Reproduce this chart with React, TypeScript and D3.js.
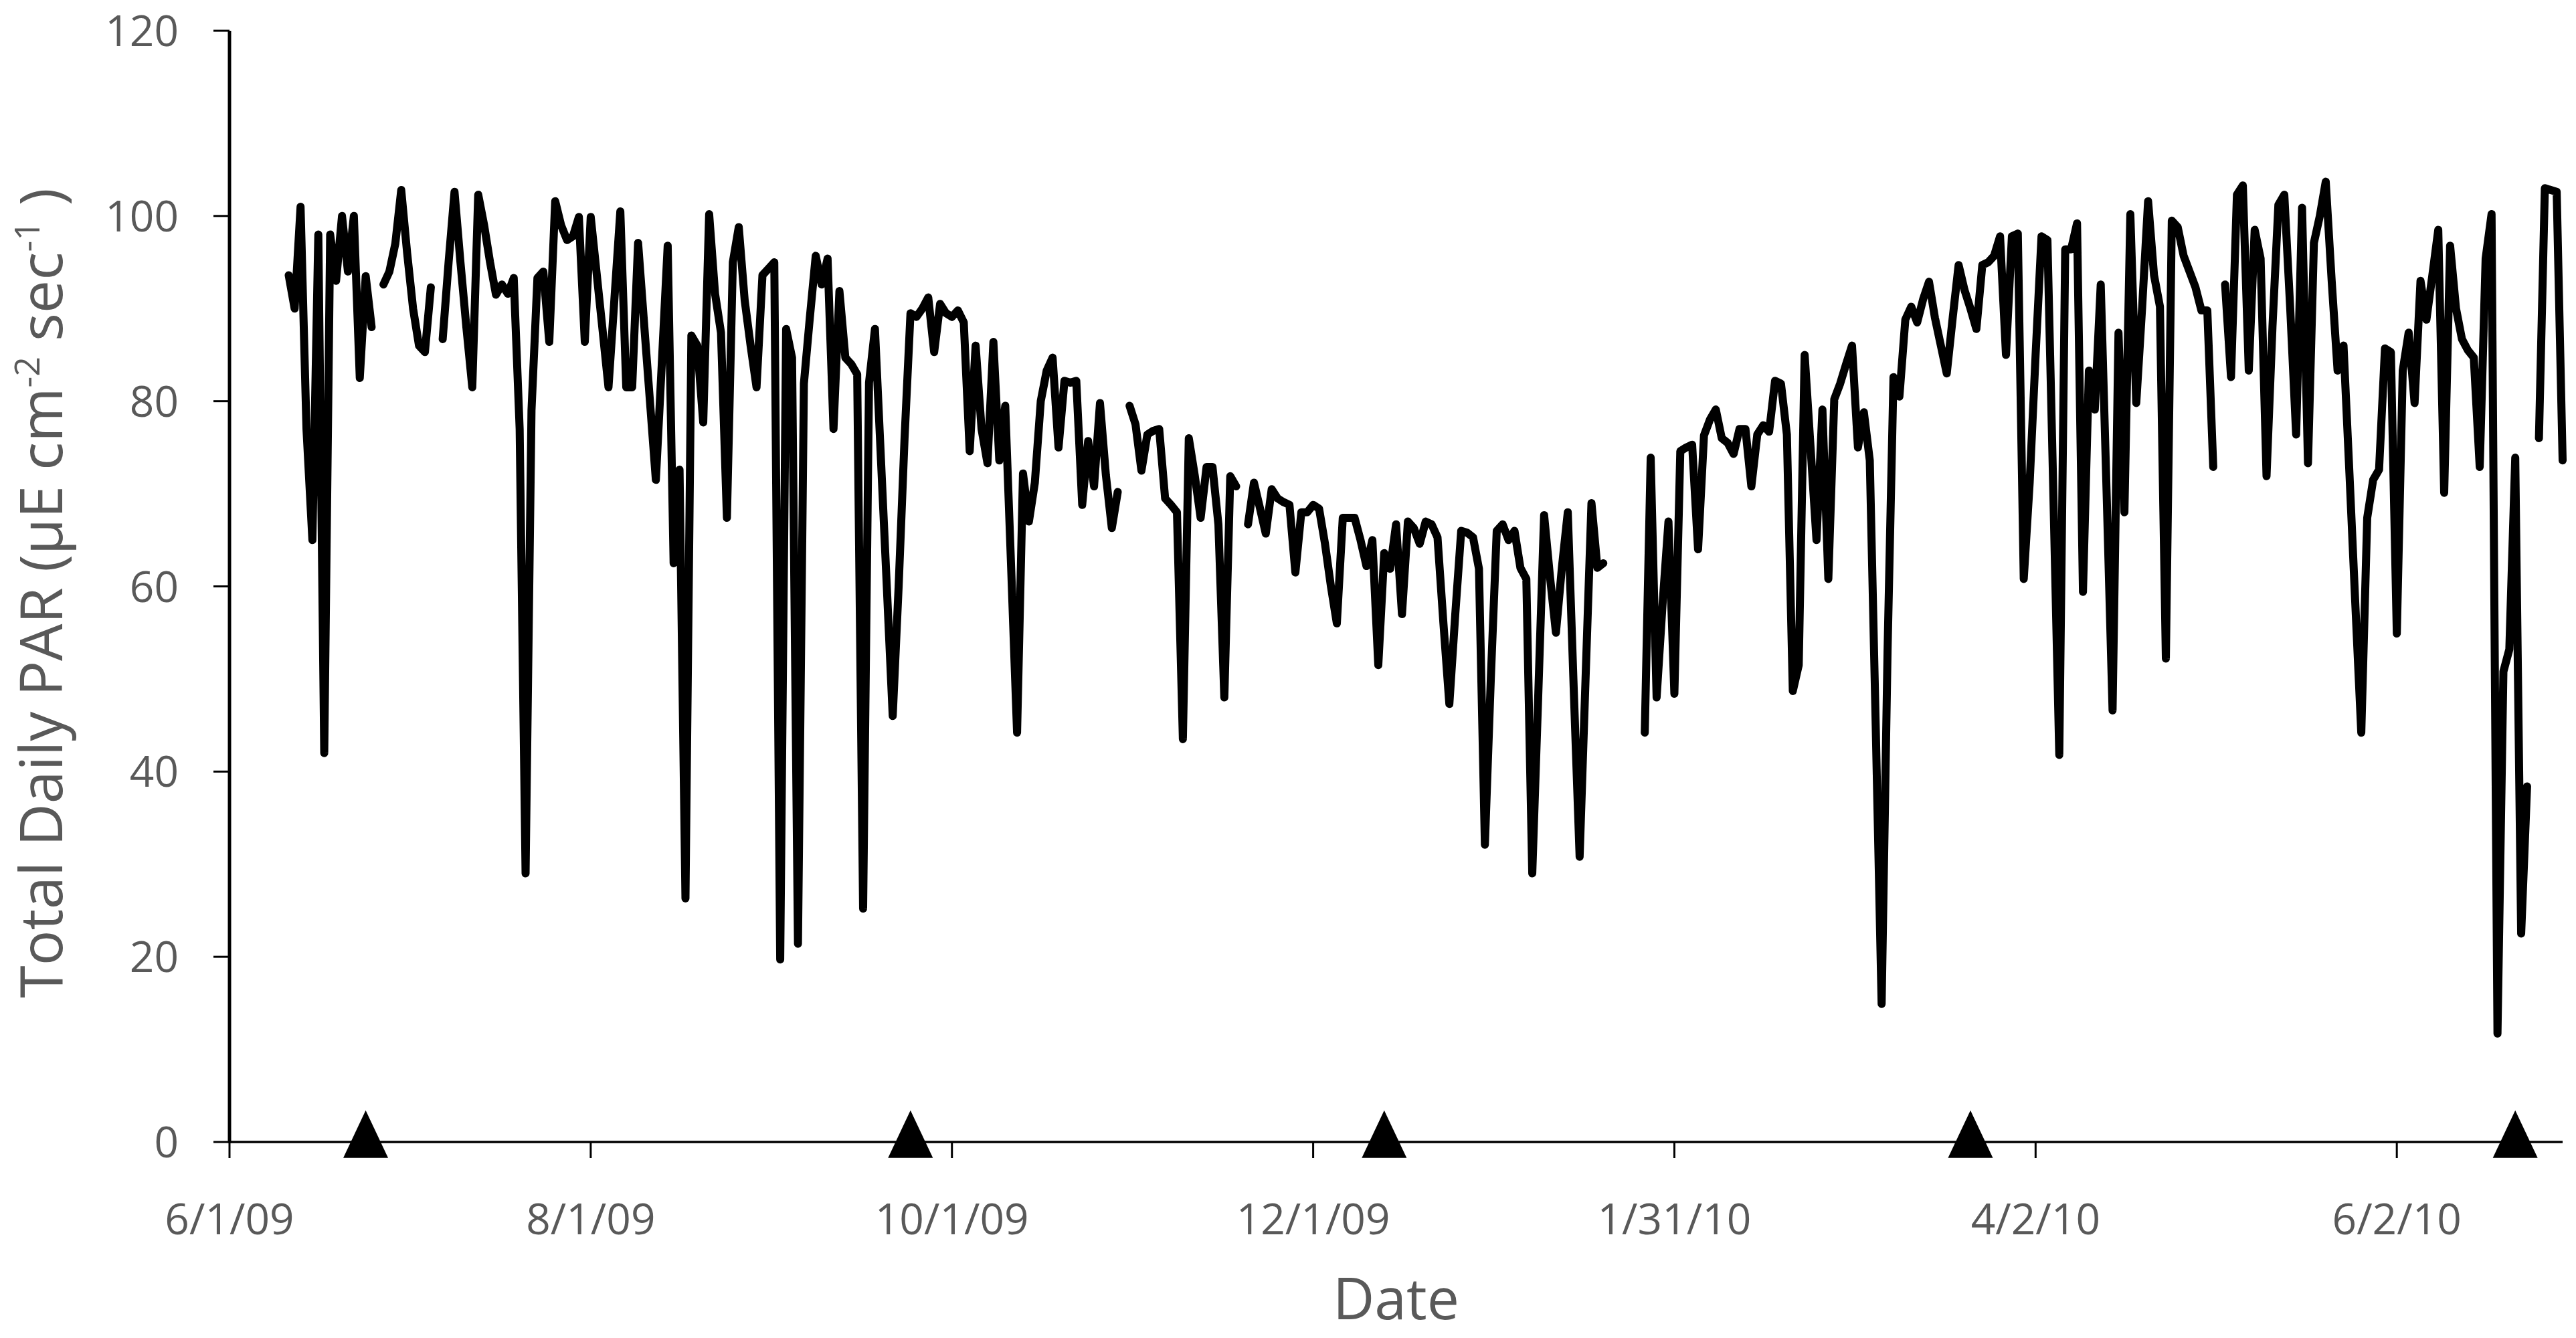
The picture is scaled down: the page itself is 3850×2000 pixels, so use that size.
import React from "react";
import * as d3 from "d3";

// ---- data ----
const startDate = "2009-06-11"; // first daily value
// Total daily PAR, one value per day from startDate (null = no data)
const parValues: (number | null)[] = [
  93.6, 90, 101, 77, 65, 98, 42, 98, 93, 100,
  94, 100, 82.5, 93.5, 88, null, 92.6, 94, 97, 102.8,
  96, 90, 86, 85.3, 92.3, null, 86.7, 95, 102.6, 95,
  88, 81.5, 102.3, 99, 95, 91.5, 92.6, 91.6, 93.3, 77,
  29, 79, 93.3, 94, 86.4, 101.6, 99, 97.4, 97.8, 99.9,
  86.4, 99.9, 93.8, 87.7, 81.5, 91, 100.5, 81.5, 81.5, 97.1,
  88.5, 80, 71.5, 84, 96.8, 62.5, 72.6, 26.3, 87.1, 86,
  77.7, 100.2, 91.6, 87.4, 67.4, 95, 98.8, 90.9, 86, 81.5,
  93.6, 94.3, 95, 19.7, 87.8, 84.7, 21.4, 81.9, 89, 95.7,
  92.6, 95.4, 77, 91.9, 84.7, 84, 82.9, 25.2, 82, 87.8,
  73.9, 60, 46, 60, 76, 89.5, 89.1, 90, 91.2, 85.3,
  90.5, 89.5, 89.1, 89.8, 88.5, 74.6, 86, 77, 73.3, 86.4,
  73.6, 79.5, 62, 44.2, 72.2, 67, 71.2, 80, 83.3, 84.7,
  75, 82.2, 82, 82.2, 68.8, 75.7, 70.8, 79.8, 72, 66.3,
  70.2, null, 79.5, 77.5, 72.5, 76.4, 76.8, 77, 69.5, 68.8,
  68, 43.5, 76, 72, 67.4, 72.9, 72.9, 66.7, 48, 71.9,
  70.8, null, 66.7, 71.2, 68.5, 65.7, 70.5, 69.5, 69.1, 68.8,
  61.5, 68, 68, 68.8, 68.4, 64.6, 60, 56, 67.4, 67.4,
  67.4, 65, 62.2, 65, 51.5, 63.6, 61.9, 66.7, 57, 67,
  66.3, 64.6, 67, 66.7, 65.3, 56, 47.3, 57, 66, 65.8,
  65.3, 61.9, 32.1, 50, 66, 66.7, 65, 66, 62, 60.8,
  29, 48, 67.7, 61, 55, 62, 68, 49, 30.8, 50,
  69, 62, 62.5, null, null, null, null, null, null, 44.2,
  73.9, 48, 58, 67, 48.4, 74.6, 75, 75.3, 64, 76.3,
  78, 79.1, 76, 75.5, 74.3, 77, 77, 70.8, 76.4, 77.4,
  76.7, 82.2, 81.9, 76.4, 48.7, 51.5, 85, 75, 65, 79.1,
  60.8, 80.2, 81.9, 84, 86, 75, 78.8, 73.6, 45, 14.9,
  53, 82.6, 80.5, 88.8, 90.2, 88.5, 91, 92.9, 89, 86,
  83, 89, 94.7, 92, 90, 87.8, 94.7, 95, 95.7, 97.8,
  85, 97.8, 98.1, 60.8, 71.2, 85, 97.8, 97.4, 70, 41.8,
  96.4, 96.4, 99.2, 59.4, 83.3, 79.1, 92.6, 70, 46.6, 87.4,
  68, 100.2, 79.8, 90.2, 101.6, 93.6, 90.2, 52.2, 99.5, 98.8,
  95.7, 94, 92.3, 89.8, 89.8, 72.9, null, 92.6, 82.6, 102.3,
  103.3, 83.3, 98.5, 95.4, 71.9, 88, 101.2, 102.3, 90, 76.4,
  100.9, 73.3, 97.1, 100, 103.7, 93, 83.3, 86, 72.2, 58,
  44.2, 67.4, 71.5, 72.6, 85.7, 85.3, 54.9, 83.3, 87.4, 79.8,
  93, 88.8, 93.6, 98.5, 70.1, 96.8, 90, 86.7, 85.5, 84.7,
  72.9, 95.4, 100.2, 11.7, 50.8, 53.2, 73.9, 22.5, 38.4, null,
  76, 103, 102.8, 102.6, 73.6,
];
const xDomain = ["2009-06-01", "2010-06-30"];
const yDomain = [0, 120];
const xTickDates = ["2009-06-01", "2009-08-01", "2009-10-01", "2009-12-01", "2010-01-31", "2010-04-02", "2010-06-02"];
const yTickValues = [0, 20, 40, 60, 80, 100, 120];
const markerDates = ["2009-06-24", "2009-09-24", "2009-12-13", "2010-03-22", "2010-06-22"];

// ---- layout / style ----
const W = 3850;
const H = 2000;
const plot = { left: 343, right: 3830, top: 46, bottom: 1707 };
const FONT = "'Open Sans', 'Liberation Sans', sans-serif";
const GRAY = "#595959";
const TICK_LEN = 24;

type Pt = { date: Date; value: number | null };

export default function App() {
  const parse = d3.utcParse("%Y-%m-%d");
  const x = d3
    .scaleUtc()
    .domain(xDomain.map((s) => parse(s) as Date))
    .range([plot.left, plot.right]);
  const y = d3.scaleLinear().domain(yDomain).range([plot.bottom, plot.top]);

  const start = parse(startDate) as Date;
  const series: Pt[] = parValues.map((v, i) => ({ date: d3.utcDay.offset(start, i), value: v }));

  const line = d3
    .line<Pt>()
    .defined((d) => d.value != null)
    .x((d) => x(d.date))
    .y((d) => y(d.value as number));

  const fmt = d3.utcFormat("%-m/%-d/%y");

  const triW = 67;
  const triH = 71;
  const triPath = `M0,${(-triH * 2) / 3} L${triW / 2},${triH / 3} L${-triW / 2},${triH / 3} Z`;

  const y0 = y(0);

  return (
    <svg
      width={W}
      height={H}
      viewBox={`0 0 ${W} ${H}`}
      style={{ position: "absolute", left: 0, top: 0, background: "#fff" }}
    >
      <rect x={0} y={0} width={W} height={H} fill="#fff" />

      {/* y ticks + labels */}
      {yTickValues.map((v) => (
        <g key={`y${v}`}>
          <line x1={plot.left - TICK_LEN} x2={plot.left} y1={y(v)} y2={y(v)} stroke="#000" strokeWidth={3} />
          <text
            x={plot.left - TICK_LEN - 52}
            y={y(v) + 23}
            textAnchor="end"
            fontFamily={FONT}
            fontSize={64}
            fill={GRAY}
          >
            {v}
          </text>
        </g>
      ))}

      {/* x ticks + labels */}
      {xTickDates.map((s) => {
        const dt = parse(s) as Date;
        const xx = x(dt);
        return (
          <g key={`x${s}`}>
            <line x1={xx} x2={xx} y1={y0} y2={y0 + TICK_LEN} stroke="#000" strokeWidth={3} />
            <text x={xx} y={y0 + 138} textAnchor="middle" fontFamily={FONT} fontSize={64} fill={GRAY}>
              {fmt(dt)}
            </text>
          </g>
        );
      })}

      {/* axes */}
      <line x1={plot.left} x2={plot.right} y1={y0} y2={y0} stroke="#000" strokeWidth={3.5} />
      <line x1={plot.left} x2={plot.left} y1={y(yDomain[1])} y2={y0 + 1.5} stroke="#000" strokeWidth={5} />

      {/* data line */}
      <path
        d={line(series) || ""}
        fill="none"
        stroke="#000"
        strokeWidth={12}
        strokeLinejoin="round"
        strokeLinecap="round"
      />

      {/* triangle markers */}
      {markerDates.map((s) => (
        <path key={`m${s}`} d={triPath} transform={`translate(${x(parse(s) as Date)},${y0})`} fill="#000" />
      ))}

      {/* axis titles */}
      <text
        x={(plot.left + plot.right) / 2}
        y={1972}
        textAnchor="middle"
        fontFamily={FONT}
        fontSize={86}
        fill={GRAY}
      >
        Date
      </text>
      <text
        transform={`translate(93,${y(60) + 10}) rotate(-90)`}
        textAnchor="middle"
        fontFamily={FONT}
        fontSize={88}
        fill={GRAY}
      >
        <tspan>Total Daily PAR (µE cm</tspan>
        <tspan fontSize={52} dy={-34}>-2</tspan>
        <tspan dy={34}> sec</tspan>
        <tspan fontSize={52} dy={-34}>-1</tspan>
        <tspan dy={34}> )</tspan>
      </text>
    </svg>
  );
}
